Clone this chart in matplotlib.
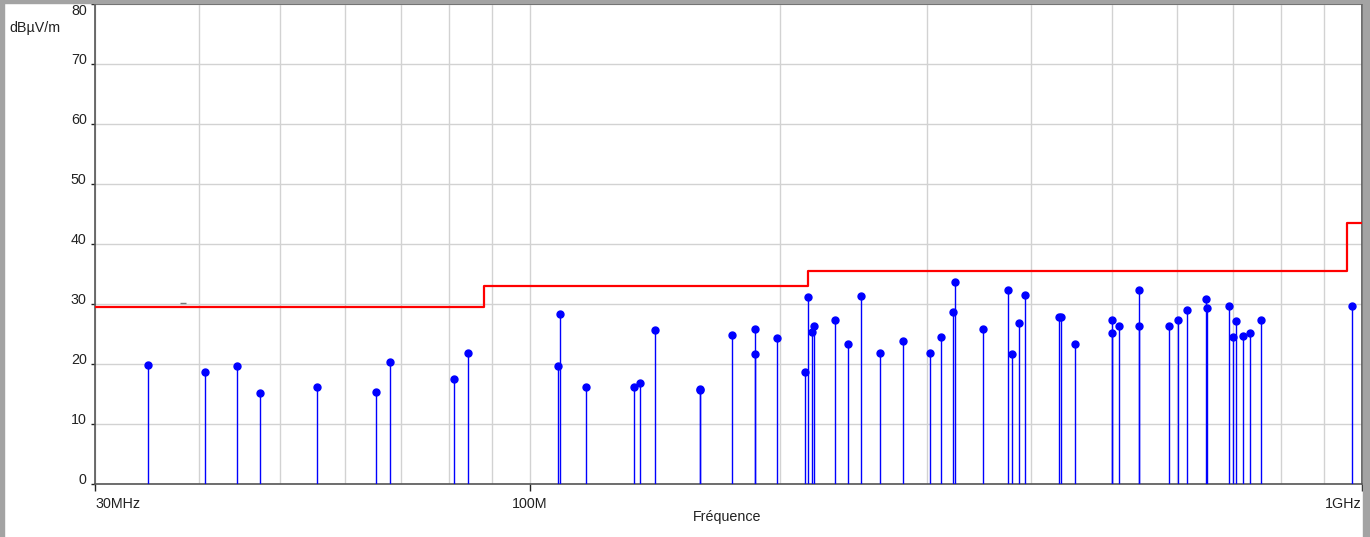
import matplotlib
matplotlib.use("Agg")
import matplotlib.pyplot as plt
from matplotlib.patches import Rectangle
from matplotlib.ticker import FixedLocator, NullFormatter

plt.rcParams['font.family'] = ['Liberation Sans', 'DejaVu Sans']

# measured peaks (MHz, dBuV/m)
freq_mhz = [34.7, 40.7, 44.5, 47.4, 55.5, 65.3, 67.8, 81.0, 84.3,
            108.1, 108.6, 116.9, 133.3, 135.6, 141.2, 160.1, 160.1,
            175.0, 186.6, 186.6, 197.9, 214.2, 215.8, 218.0, 219.6,
            232.6, 241.3, 250.1, 263.6, 280.5, 302.5, 312.1, 322.1,
            324.2, 350.0, 375.4, 379.3, 387.4, 393.8, 431.9, 434.8,
            451.8, 500.0, 500.0, 510.7, 539.8, 539.8, 586.3, 601.0,
            616.7, 648.8, 651.1, 692.1, 700.3, 704.9, 718.7, 732.7,
            755.9, 973.6]
level_db = [19.8, 18.6, 19.6, 15.2, 16.2, 15.4, 20.4, 17.5, 21.9,
            19.6, 28.4, 16.2, 16.2, 16.9, 25.6, 15.9, 15.6,
            24.8, 25.9, 21.6, 24.3, 18.7, 31.2, 25.3, 26.4,
            27.4, 23.3, 31.4, 21.9, 23.9, 21.9, 24.5, 28.6,
            33.6, 25.8, 32.3, 21.7, 26.8, 31.5, 27.9, 27.9,
            23.3, 27.4, 25.2, 26.4, 32.3, 26.3, 26.4, 27.3,
            29.0, 30.9, 29.4, 29.6, 24.5, 27.2, 24.7, 25.2,
            27.3, 29.7]

# limit line (class B, 10 m)
limit_f = [30, 88, 216, 960, 1000]
limit_db = [29.5, 33.0, 35.5, 43.5, 43.5]

xtick_vals = [30, 100, 1000]
xtick_text = ['30MHz', '100M', '1GHz']
xgrid_minor = [40, 50, 60, 70, 80, 90, 200, 300, 400, 500, 600, 700, 800, 900]

W, H = 1370, 537
fs = 10.3
fig = plt.figure(figsize=(W / 100, H / 100), dpi=100)
ax = fig.add_axes([95 / W, (H - 484) / H, (1362 - 95) / W, (484 - 4) / H])

ax.set_xscale('log')
ax.set_xlim(30, 1000)
ax.set_ylim(0, 80)

# grid
ax.xaxis.set_major_locator(FixedLocator(xtick_vals))
ax.xaxis.set_minor_locator(FixedLocator(xgrid_minor))
ax.xaxis.set_minor_formatter(NullFormatter())
ax.set_xticklabels(xtick_text)
ax.set_yticks(range(0, 81, 10))
ax.grid(True, which='both', color='#d2d2d2', lw=1.0, zorder=0)
ax.set_axisbelow(True)

ax.tick_params(axis='x', which='major', length=5, width=1, direction='out',
               pad=4, labelsize=fs, colors='#222222')
ax.tick_params(axis='x', which='minor', length=0)
ax.tick_params(axis='y', length=3, width=1, direction='out', pad=3,
               labelsize=fs, colors='#222222')
labs = ax.get_xticklabels()
labs[0].set_ha('left')
labs[-1].set_ha('right')
ylabs = ax.get_yticklabels()
for t in ylabs:
    t.set_va('baseline')
ylabs[-1].set_va('top')

for s in ax.spines.values():
    s.set_color('#555555')
    s.set_linewidth(1.2)

# limit line
ax.step(limit_f, limit_db, where='post', color='red', lw=1.6, zorder=3)
ax.plot([38.3], [30.2], marker='_', ms=4, color='#777777', zorder=3)

# peaks
ax.vlines(freq_mhz, 0, level_db, color='blue', lw=1.0, zorder=4)
ax.plot(freq_mhz, level_db, 'o', color='blue', ms=5, zorder=5)

fig.text(9 / W, 1 - 28 / H, 'dBµV/m', fontsize=fs, ha='left', va='center',
         color='#222222')
fig.text(727 / W, 1 - 517 / H, 'Fréquence', fontsize=fs, ha='center',
         va='center', color='#222222')

# window border
for r in [(0, 0, 4 / W, 1), (0, 1 - 3 / H, 1, 3 / H), (1363 / W, 0, 7 / W, 1)]:
    fig.patches.append(Rectangle(r[:2], r[2], r[3], transform=fig.transFigure,
                                 color='#a3a3a3', zorder=0))

fig.savefig('out.png', dpi=100)
